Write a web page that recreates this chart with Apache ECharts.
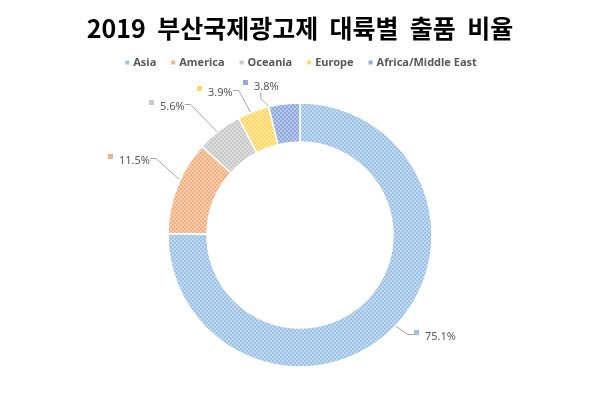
<!DOCTYPE html>
<html>
<head>
<meta charset="utf-8">
<script src="https://cdn.jsdelivr.net/npm/echarts@6/dist/echarts.min.js"></script>
<style>
html, body { margin: 0; padding: 0; background: #fff; }
#chart { width: 600px; height: 399px; }
</style>
</head>
<body>
<div id="chart"></div>
<script>
// 대륙별 출품 비율 데이터
var regions = ['Asia', 'America', 'Oceania', 'Europe', 'Africa/Middle East'];
var shares = [75.1, 11.5, 5.6, 3.9, 3.8];
var colors = ['#9dc3e6', '#f4b183', '#c9c9c9', '#ffd966', '#8faadc'];

// 빗금 패턴 (촘촘한 격자)
function makePattern(color) {
    var c = document.createElement('canvas');
    c.width = 4;
    c.height = 4;
    var ctx = c.getContext('2d');
    ctx.fillStyle = color;
    ctx.fillRect(0, 0, 4, 4);
    ctx.fillStyle = 'rgba(255,255,255,0.35)';
    for (var i = 0; i < 4; i++) {
        ctx.fillRect(i, 3 - i, 1, 1);
        ctx.fillRect(i, (i + 2) % 4, 1, 1);
    }
    return { image: c, repeat: 'repeat' };
}

// 라벨 위치 (사각형 왼쪽 끝, 세로 중앙)
var labelPos = [[414, 337], [108, 161], [149, 107], [197, 93], [243, 87]];

var pieData = [];
var labelData = [];
for (var i = 0; i < regions.length; i++) {
    pieData.push({
        name: regions[i],
        value: shares[i],
        itemStyle: { color: makePattern(colors[i]) }
    });
    labelData.push({
        name: regions[i],
        value: shares[i],
        label: {
            formatter: '{s|}{v|' + shares[i].toFixed(1) + '%}',
            rich: {
                s: { width: 5, height: 5, backgroundColor: colors[i], verticalAlign: 'top' },
                v: { fontSize: 11, lineHeight: 14, color: '#595959', padding: [0, 0, 0, 6], fontFamily: 'Noto Sans' }
            }
        }
    });
}

var myChart = echarts.init(document.getElementById('chart'));

var option = {
    backgroundColor: '#ffffff',
    title: {
        text: '2019  부산국제광고제  대륙별  출품  비율',
        left: 'center',
        top: 11,
        textStyle: {
            fontFamily: 'Noto Sans CJK KR',
            fontSize: 25,
            fontWeight: 'bold',
            color: '#000000'
        }
    },
    legend: {
        top: 52,
        left: 'center',
        itemWidth: 6,
        itemHeight: 6,
        itemGap: 13,
        icon: 'rect',
        data: regions.map(function (r, i) {
            return { name: r, itemStyle: { color: colors[i] } };
        }),
        textStyle: {
            fontFamily: 'Noto Sans',
            fontSize: 11,
            fontWeight: 'bold',
            color: '#595959',
            padding: [0, 0, 0, -2]
        }
    },
    series: [{
        name: '출품 비율',
        type: 'pie',
        center: [300, 235],
        radius: [93, 132],
        startAngle: 90,
        clockwise: true,
        silent: true,
        label: { show: false },
        labelLine: { show: false },
        itemStyle: { borderColor: '#ffffff', borderWidth: 1.5 },
        data: pieData
    }, {
        name: '라벨',
        type: 'pie',
        center: [300, 235],
        radius: [0, 112],
        startAngle: 90,
        clockwise: true,
        silent: true,
        itemStyle: { color: 'rgba(0,0,0,0)' },
        label: {
            show: true,
            position: 'outside'
        },
        labelLine: {
            show: true,
            length: 30,
            length2: 6,
            lineStyle: { color: '#a6a6a6', width: 1 }
        },
        labelLayout: function (params) {
            var p = labelPos[params.dataIndex];
            return { x: p[0], y: p[1], align: 'left', verticalAlign: 'middle' };
        },
        data: labelData
    }]
};

myChart.setOption(option);
</script>
</body>
</html>
